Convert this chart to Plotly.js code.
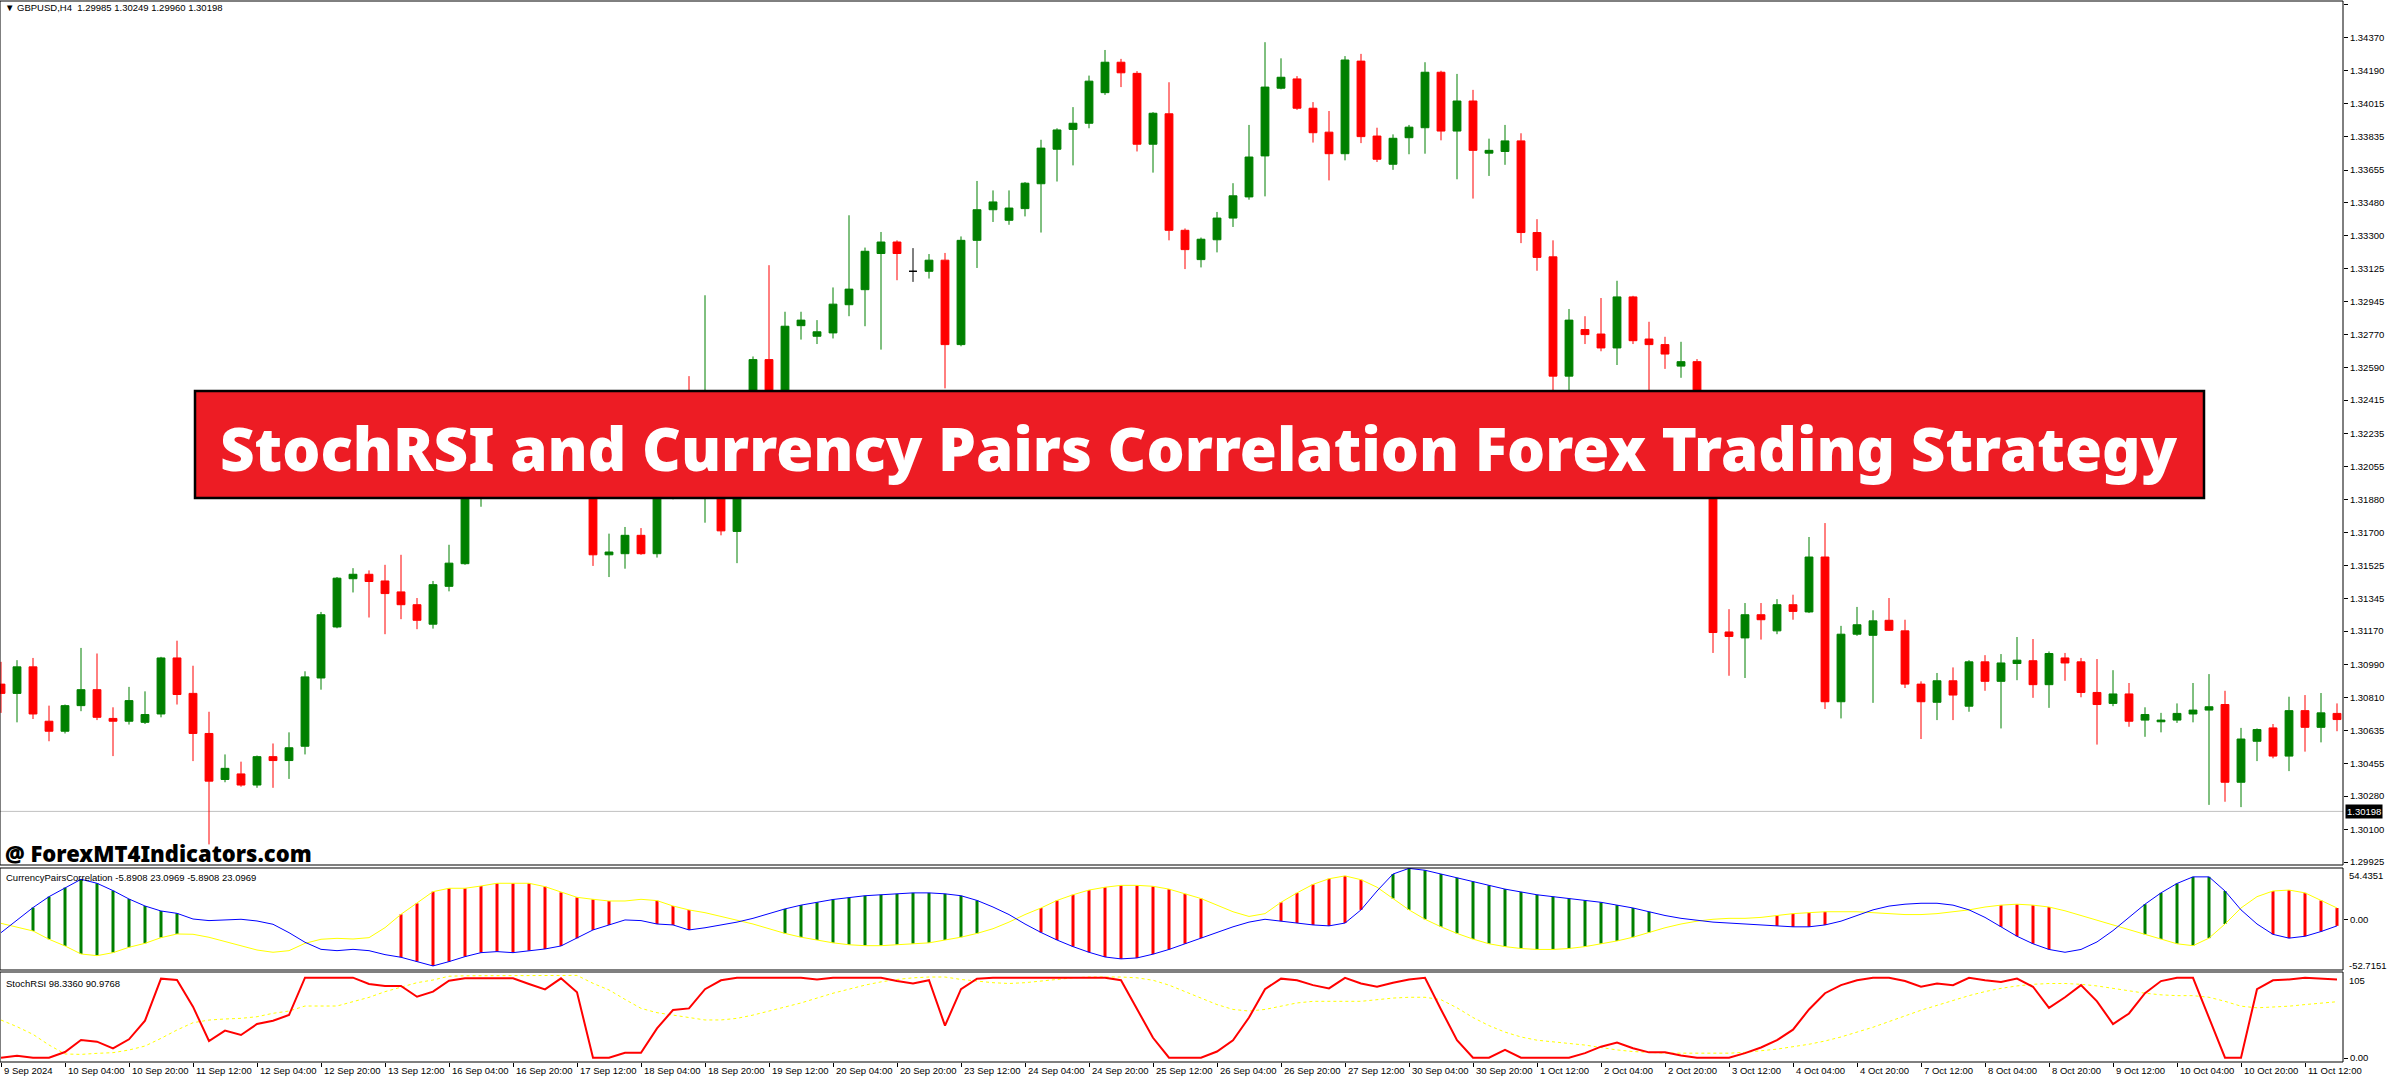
<!DOCTYPE html>
<html><head><meta charset="utf-8">
<script src="https://cdn.plot.ly/plotly-3.0.1.min.js"></script>
<style>html,body{margin:0;padding:0;background:#fff;} #chart{width:2387px;height:1077px;}</style>
</head><body><div id="chart"></div>
<script>
const symbolTitle = "GBPUSD,H4";
const headerValues = "1.29985 1.30249 1.29960 1.30198";
const bannerText = "StochRSI and Currency Pairs Correlation Forex Trading Strategy";
const watermark = "@ ForexMT4Indicators.com";
const corrLabel = "CurrencyPairsCorrelation -5.8908 23.0969 -5.8908 23.0969";
const stochLabel = "StochRSI 98.3360 90.9768";
const currentPrice = 1.30198;

const openP = [1.30884,1.30834,1.30977,1.30684,1.30630,1.30768,1.30854,1.30699,1.30684,1.30678,
1.30723,1.31025,1.30834,1.30618,1.30370,1.30400,1.30340,1.30493,1.30472,1.30549,
1.30917,1.31192,1.31452,1.31476,1.31440,1.31381,1.31312,1.31207,1.31411,1.31533,
1.31960,1.32070,1.32220,1.32290,1.32250,1.32320,1.32220,1.32100,1.31581,1.31587,
1.31686,1.31587,1.31920,1.32280,1.31960,1.32150,1.31707,1.32250,1.32633,1.32320,
1.32816,1.32759,1.32777,1.32929,1.33010,1.33205,1.33267,1.33109,1.33109,1.33169,
1.32714,1.33276,1.33441,1.33384,1.33447,1.33581,1.33767,1.33874,1.33907,1.34072,
1.34236,1.34176,1.33794,1.33958,1.33330,1.33172,1.33279,1.33396,1.33510,1.33731,
1.34096,1.34146,1.33988,1.33859,1.33743,1.34242,1.33838,1.33686,1.33829,1.33883,
1.34182,1.33865,1.34027,1.33746,1.33755,1.33812,1.33318,1.33187,1.32544,1.32795,
1.32771,1.32696,1.32971,1.32744,1.32714,1.32598,1.32622,1.32380,1.31165,1.31133,
1.31258,1.31171,1.31312,1.31273,1.31569,1.30789,1.31153,1.31147,1.31228,1.31171,
1.30884,1.30786,1.30902,1.30765,1.31004,1.30899,1.30995,1.31010,1.30881,1.31025,
1.31004,1.30839,1.30780,1.30831,1.30690,1.30681,1.30690,1.30723,1.30744,1.30774,
1.30355,1.30576,1.30648,1.30496,1.30741,1.30651,1.30726];
const highP = [1.31004,1.31013,1.31025,1.30768,1.30774,1.31079,1.31049,1.30759,1.30869,1.30845,
1.31031,1.31118,1.30983,1.30735,1.30505,1.30466,1.30499,1.30564,1.30624,1.30953,
1.31273,1.31461,1.31509,1.31497,1.31527,1.31581,1.31348,1.31440,1.31635,1.32010,
1.32120,1.32280,1.32360,1.32400,1.32380,1.32440,1.32350,1.32180,1.31695,1.31731,
1.31725,1.31970,1.32360,1.32544,1.32980,1.32240,1.32380,1.32650,1.33142,1.32891,
1.32891,1.32846,1.33022,1.33411,1.33237,1.33321,1.33276,1.33234,1.33202,1.33208,
1.33297,1.33596,1.33545,1.33545,1.33590,1.33818,1.33880,1.33994,1.34164,1.34302,
1.34254,1.34188,1.33967,1.34128,1.33340,1.33291,1.33429,1.33584,1.33898,1.34344,
1.34257,1.34161,1.34021,1.33973,1.34269,1.34281,1.33883,1.33847,1.33898,1.34236,
1.34190,1.34173,1.34087,1.33824,1.33898,1.33853,1.33390,1.33276,1.32906,1.32867,
1.32965,1.33058,1.32977,1.32837,1.32756,1.32729,1.32636,1.32420,1.31288,1.31321,
1.31321,1.31342,1.31366,1.31677,1.31752,1.31198,1.31300,1.31282,1.31348,1.31231,
1.30899,1.30944,1.30974,1.31013,1.31040,1.31046,1.31138,1.31127,1.31060,1.31052,
1.31025,1.31019,1.30959,1.30890,1.30759,1.30729,1.30780,1.30890,1.30938,1.30848,
1.30648,1.30645,1.30669,1.30816,1.30825,1.30836,1.30780];
const lowP = [1.30729,1.30678,1.30696,1.30576,1.30618,1.30738,1.30690,1.30496,1.30666,1.30669,
1.30705,1.30774,1.30469,1.30020,1.30355,1.30331,1.30325,1.30325,1.30373,1.30505,
1.30854,1.31185,1.31378,1.31243,1.31153,1.31234,1.31180,1.31183,1.31384,1.31527,
1.31840,1.31990,1.32130,1.32190,1.32140,1.32180,1.31950,1.31521,1.31461,1.31506,
1.31581,1.31566,1.31880,1.31900,1.31754,1.31686,1.31536,1.32190,1.32220,1.32280,
1.32741,1.32717,1.32747,1.32867,1.32813,1.32687,1.33061,1.33052,1.33070,1.32478,
1.32705,1.33127,1.33375,1.33360,1.33405,1.33318,1.33593,1.33680,1.33880,1.34060,
1.34102,1.33755,1.33641,1.33276,1.33121,1.33130,1.33211,1.33348,1.33495,1.33513,
1.34090,1.33979,1.33803,1.33599,1.33707,1.33800,1.33698,1.33656,1.33740,1.33743,
1.33815,1.33605,1.33501,1.33623,1.33683,1.33261,1.33112,1.32380,1.32400,1.32717,
1.32678,1.32604,1.32717,1.32400,1.32583,1.32535,1.32320,1.31052,1.30929,1.30917,
1.31124,1.31153,1.31231,1.31267,1.30750,1.30699,1.31144,1.30783,1.31171,1.30863,
1.30588,1.30690,1.30690,1.30735,1.30848,1.30645,1.30905,1.30810,1.30756,1.30902,
1.30813,1.30558,1.30765,1.30654,1.30600,1.30624,1.30675,1.30678,1.30233,1.30250,
1.30221,1.30469,1.30484,1.30415,1.30520,1.30570,1.30630];
const closeP = [1.30834,1.30977,1.30723,1.30630,1.30768,1.30854,1.30705,1.30684,1.30795,1.30720,
1.31025,1.30828,1.30618,1.30361,1.30430,1.30340,1.30493,1.30472,1.30541,1.30923,
1.31258,1.31455,1.31476,1.31437,1.31372,1.31312,1.31228,1.31420,1.31536,1.31960,
1.32070,1.32220,1.32290,1.32250,1.32320,1.32220,1.32100,1.31581,1.31596,1.31686,
1.31587,1.31920,1.32280,1.31960,1.32150,1.31710,1.32250,1.32633,1.32320,1.32813,
1.32846,1.32783,1.32932,1.33013,1.33217,1.33267,1.33205,1.33109,1.33169,1.32714,
1.33276,1.33441,1.33483,1.33450,1.33584,1.33773,1.33871,1.33907,1.34134,1.34236,
1.34179,1.33794,1.33961,1.33330,1.33226,1.33282,1.33396,1.33516,1.33725,1.34102,
1.34155,1.33988,1.33856,1.33743,1.34248,1.33835,1.33713,1.33826,1.33886,1.34182,
1.33865,1.34027,1.33761,1.33761,1.33812,1.33318,1.33184,1.32544,1.32846,1.32768,
1.32696,1.32971,1.32735,1.32714,1.32663,1.32622,1.32380,1.31162,1.31141,1.31258,
1.31231,1.31312,1.31276,1.31569,1.30789,1.31153,1.31204,1.31225,1.31174,1.30884,
1.30789,1.30902,1.30825,1.31004,1.30899,1.30998,1.31013,1.30881,1.31049,1.30998,
1.30839,1.30774,1.30831,1.30684,1.30720,1.30690,1.30726,1.30744,1.30762,1.30355,
1.30588,1.30639,1.30496,1.30741,1.30651,1.30729,1.30693];

const corrBlue = [-14.2,-0.7,12.4,24.0,33.6,42.4,38.2,30.4,21.5,14.1,8.8,6.3,0.3,-1.4,-0.7,0.0,-1.8,-5.3,-14.2,-24.4,
-31.9,-33.3,-31.9,-33.3,-37.5,-40.3,-44.9,-49.5,-44.9,-39.6,-35.4,-34.3,-35.4,-33.3,-31.5,-28.3,-20.2,-11.3,-6.0,-0.7,
-1.4,-5.0,-6.0,-11.3,-9,-6,-3,1,6,11,15,18,21,23,25,26,27,28,28,27,
25,20,13,5,-5,-14,-22,-29,-35,-40,-42,-41,-37,-32,-26,-20,-14,-8,-3,0,
-2,-4,-6,-7,-4,10,30,48,54,52,48,44,40,36,32,29,26,24,22,20,
18,15,12,8,4,1,-1,-3,-4,-5,-6,-7,-8,-8,-6,-2,4,10,14,16,
17,17,15,10,2,-8,-18,-26,-32,-35,-32,-24,-12,2,16,28,38,45,45,30,
10,-5,-16,-20,-18,-13,-7];
const corrYellow = [-4.3,-8.5,-12.4,-21.2,-28.3,-36.8,-38.6,-35.4,-29.7,-25.5,-19.5,-15.6,-15.9,-19.1,-23.7,-28.0,-32.6,-35.0,-33.3,-25.5,
-21.2,-20.2,-20.9,-19.5,-8.9,5.3,16.9,29.3,32.9,32.9,35.3,38.2,38.2,38.2,34.6,28.6,23.3,21.2,19.4,19.4,
21.2,19.8,14.1,9.9,7,3,-1,-5,-10,-15,-19,-22,-25,-27,-28,-28,-27,-26,-25,-22,
-19,-15,-10,-3,5,12,20,26,31,34,36,36,35,32,27,22,15,8,3,6,
18,28,37,43,46,42,34,22,10,0,-8,-15,-21,-26,-29,-31,-32,-32,-31,-29,
-26,-23,-19,-14,-9,-5,-2,0,1,1,2,4,6,7,8,8,8,7,6,5,
5,6,8,10,13,15,16,15,13,9,4,-1,-6,-11,-16,-21,-26,-28,-20,-5,
12,24,30,31,28,20,12];
const corrHist = [0,0,1,1,1,1,1,1,1,1,1,1,0,0,0,0,0,0,0,0,
0,0,0,0,0,-1,-1,-1,-1,-1,-1,-1,-1,-1,-1,-1,-1,-1,-1,0,
0,-1,-1,-1,0,0,0,0,0,1,1,1,1,1,1,1,1,1,1,1,
1,1,0,0,0,-1,-1,-1,-1,-1,-1,-1,-1,-1,-1,-1,0,0,0,0,
-1,-1,-1,-1,-1,-1,0,1,1,1,1,1,1,1,1,1,1,1,1,1,
1,1,1,1,0,0,0,0,0,0,0,-1,-1,-1,-1,0,0,0,0,0,
0,0,0,0,0,-1,-1,-1,-1,0,0,0,0,0,1,1,1,1,1,1,
0,0,-1,-1,-1,-1,-1];

const stochMain = [0.4,2.9,0.4,0.4,7.4,22.2,20.2,11.9,23.1,46.1,98,96.3,63.4,21,33.8,28.4,42,46.1,53.1,99.2,
99.2,99.2,99.2,91.4,88.9,88.9,75.7,81.9,95.5,98.4,98.4,98.4,98.4,91.4,84.8,98.4,81.1,0.4,0.4,6.6,
6.6,36.6,59.3,61.3,85,96,99,99,99,99,99,97,99,99,99,99,95,92,96,40,
85,98,99,99,99,99,99,99,99,99,96,60,25,0.4,0.4,0.4,8,22,50,85,
98,96,90,86,99,92,88,93,97,99,60,22,0.4,0.4,10,0.4,0.4,0.4,0.4,6,
14,19,12,7,7,3,0.4,0.4,0.4,6,13,22,35,60,80,90,96,99,99,95,
88,92,90,99,96,94,98,88,62,75,90,70,42,55,80,95,99,99,50,0.4,
0.4,85,96,97,99,98,97];
const stochSignal = [46.9,38.7,29.2,16.1,5,4.5,5.8,6.6,9.9,14.8,24.3,34.6,43.6,46.9,48.2,49,51,55.2,58,64.2,
64.2,64.2,69.6,74.9,81.9,87.3,93,96.3,101,101.5,101.5,101.5,101.5,101.5,102,102,102,92.2,84,72.4,
61.3,56,53.1,50.2,47,47,49,53,58,63,68,74,80,85,90,94,97,99,100,100,
97,95,93,92,93,95,97,99,100,100,100,99,96,90,82,74,66,60,58,60,
64,68,70,70,70,70,72,74,75,75,72,62,50,40,32,26,22,20,18,16,
13,10,8,7,6,6,6,6,6,7,9,11,14,17,21,26,32,38,45,52,
59,65,71,77,82,86,89,91,92,92,91,89,86,83,80,78,77,77,75,70,
64,62,63,64,66,68,69.5];

const timeLabels = ["9 Sep 2024","10 Sep 04:00","10 Sep 20:00","11 Sep 12:00","12 Sep 04:00","12 Sep 20:00","13 Sep 12:00","16 Sep 04:00","16 Sep 20:00","17 Sep 12:00","18 Sep 04:00","18 Sep 20:00","19 Sep 12:00","20 Sep 04:00","20 Sep 20:00","23 Sep 12:00","24 Sep 04:00","24 Sep 20:00","25 Sep 12:00","26 Sep 04:00","26 Sep 20:00","27 Sep 12:00","30 Sep 04:00","30 Sep 20:00","1 Oct 12:00","2 Oct 04:00","2 Oct 20:00","3 Oct 12:00","4 Oct 04:00","4 Oct 20:00","7 Oct 12:00","8 Oct 04:00","8 Oct 20:00","9 Oct 12:00","10 Oct 04:00","10 Oct 20:00","11 Oct 12:00"];
const barsPerLabel = 4;
const priceTickLabels = ["1.34545","1.34370","1.34190","1.34015","1.33835","1.33655","1.33480","1.33300","1.33125","1.32945","1.32770","1.32590","1.32415","1.32235","1.32055","1.31880","1.31700","1.31525","1.31345","1.31170","1.30990","1.30810","1.30635","1.30455","1.30280","1.30100","1.29925"];
const corrMaxLabel = "54.4351", corrZeroLabel = "0.00", corrMinLabel = "-52.7151";
const stochMaxLabel = "105", stochZeroLabel = "0.00";

// ---------- build ----------
const W = 2387, H = 1077, ML = 0, MR = 44, MT = 1, MB = 15;
const PW = W - ML - MR, PH = H - MT - MB;
const px = x => (x - ML) / PW;
const py = y => (H - MB - y) / PH;

const idx = openP.map((_, i) => i);
const isDoji = i => openP[i] === closeP[i];
const mIdx = idx.filter(i => !isDoji(i));
const dIdx = idx.filter(isDoji);
const pick = (arr, ids) => ids.map(i => arr[i]);

const GREEN = '#008000', RED = '#FF0000';
const traces = [];
traces.push({
  type: 'candlestick', x: mIdx, open: pick(openP, mIdx), high: pick(highP, mIdx),
  low: pick(lowP, mIdx), close: pick(closeP, mIdx), xaxis: 'x', yaxis: 'y',
  increasing: {line: {color: GREEN, width: 1}, fillcolor: GREEN},
  decreasing: {line: {color: RED, width: 1}, fillcolor: RED},
  whiskerwidth: 0, hoverinfo: 'skip', showlegend: false
});
if (dIdx.length) traces.push({
  type: 'candlestick', x: dIdx, open: pick(openP, dIdx), high: pick(highP, dIdx),
  low: pick(lowP, dIdx), close: pick(closeP, dIdx), xaxis: 'x', yaxis: 'y',
  increasing: {line: {color: '#000', width: 1}, fillcolor: '#000'},
  decreasing: {line: {color: '#000', width: 1}, fillcolor: '#000'},
  whiskerwidth: 0, hoverinfo: 'skip', showlegend: false
});

const gx = [], gy = [], rx = [], ry = [];
corrHist.forEach((f, i) => {
  if (f === 1) { gx.push(i, i, null); gy.push(corrYellow[i], corrBlue[i], null); }
  else if (f === -1) { rx.push(i, i, null); ry.push(corrBlue[i], corrYellow[i], null); }
});
traces.push({type: 'scatter', mode: 'lines', x: gx, y: gy, xaxis: 'x', yaxis: 'y2', line: {color: GREEN, width: 3}, hoverinfo: 'skip', connectgaps: false});
traces.push({type: 'scatter', mode: 'lines', x: rx, y: ry, xaxis: 'x', yaxis: 'y2', line: {color: RED, width: 3}, hoverinfo: 'skip', connectgaps: false});
traces.push({type: 'scatter', mode: 'lines', x: idx, y: corrYellow, xaxis: 'x', yaxis: 'y2', line: {color: '#FFFF00', width: 1}, hoverinfo: 'skip'});
traces.push({type: 'scatter', mode: 'lines', x: idx, y: corrBlue, xaxis: 'x', yaxis: 'y2', line: {color: '#0000FF', width: 1}, hoverinfo: 'skip'});
traces.push({type: 'scatter', mode: 'lines', x: idx, y: stochSignal, xaxis: 'x', yaxis: 'y3', line: {color: '#FFFF00', width: 1, dash: 'dot'}, hoverinfo: 'skip'});
traces.push({type: 'scatter', mode: 'lines', x: idx, y: stochMain, xaxis: 'x', yaxis: 'y3', line: {color: RED, width: 2}, hoverinfo: 'skip'});

const FAM = 'Liberation Sans, Arial, sans-serif';
const HEAVY = 'Noto Sans, Liberation Sans, Arial, sans-serif';
const tickFont = {family: FAM, size: 9.5, color: '#000'};
const yBase = {side: 'right', anchor: 'x', showgrid: false, zeroline: false, ticks: 'outside', ticklen: 4, tickcolor: '#000', tickwidth: 1, tickfont: tickFont, showline: false, fixedrange: true, tickmode: 'array'};

const timeBars = timeLabels.map((_, k) => k * barsPerLabel);

const annotations = [];
const txt = (xp, yp, text, extra) => Object.assign({xref: 'paper', yref: 'paper', x: px(xp), y: py(yp), xanchor: 'left', yanchor: 'middle', showarrow: false, text: text, font: {family: FAM, size: 9.5, color: '#000'}}, extra || {});
annotations.push(txt(3, 7, '\u25BC\u00a0' + symbolTitle + '\u00a0\u00a0' + headerValues));
annotations.push(txt(4, 877, corrLabel));
annotations.push(txt(4, 983, stochLabel));
annotations.push(txt(3, 853, watermark, {font: {family: HEAVY, size: 22, color: '#000', weight: 900}}));
annotations.push(txt(1199, 448, bannerText, {xanchor: 'center', font: {family: HEAVY, size: 60, color: '#FFFFFF', weight: 900}}));
annotations.push(txt(2346, 875, corrMaxLabel, {xshift: 1}));
annotations.push(txt(2346, 965, corrMinLabel, {xshift: 1}));
annotations.push(txt(2346, 980, stochMaxLabel, {xshift: 1}));
annotations.push({xref: 'paper', yref: 'y', x: 1, y: currentPrice, xanchor: 'left', yanchor: 'middle', showarrow: false, xshift: 2,
  text: currentPrice.toFixed(5), bgcolor: '#000', borderpad: 1, font: {family: FAM, size: 9.5, color: '#FFFFFF'}});
timeLabels.forEach((t, k) => {
  annotations.push({xref: 'x', yref: 'paper', x: timeBars[k], y: py(1070), xanchor: 'left', yanchor: 'middle', xshift: 1, showarrow: false,
    text: t, font: {family: FAM, size: 9.5, color: '#000'}});
});

const shapes = [
  {type: 'line', layer: 'below', xref: 'paper', x0: 0, x1: 1, yref: 'y', y0: currentPrice, y1: currentPrice, line: {color: '#C0C0C0', width: 1}},
  {type: 'rect', xref: 'paper', x0: 0, x1: 1, yref: 'y domain', y0: 0, y1: 1, line: {color: '#000', width: 1}},
  {type: 'rect', xref: 'paper', x0: 0, x1: 1, yref: 'y2 domain', y0: 0, y1: 1, line: {color: '#000', width: 1}},
  {type: 'rect', xref: 'paper', x0: 0, x1: 1, yref: 'y3 domain', y0: 0, y1: 1, line: {color: '#000', width: 1}},
  {type: 'rect', xref: 'paper', yref: 'paper', x0: px(195), x1: px(2204), y0: py(498), y1: py(391), fillcolor: '#ED1C24', line: {color: '#000', width: 2.5}}
];

const layout = {
  width: W, height: H, margin: {l: ML, r: MR, t: MT, b: MB, pad: 0},
  paper_bgcolor: '#fff', plot_bgcolor: '#fff', showlegend: false, boxgap: 0.3, boxmode: 'overlay',
  xaxis: {domain: [0, 1], range: [-0.0625, 146.375], anchor: 'y3', showgrid: false, zeroline: false, tickmode: 'array', tickvals: timeBars,
    ticks: 'outside', ticklen: 4, tickcolor: '#000', showticklabels: false, showline: false, fixedrange: true, rangeslider: {visible: false}},
  yaxis: Object.assign({}, yBase, {domain: [py(865), 1], range: [1.29909, 1.34566], tickvals: priceTickLabels.map(Number), ticktext: priceTickLabels}),
  yaxis2: Object.assign({}, yBase, {domain: [py(970), py(868)], range: [-53.8, 54.4], tickvals: [0], ticktext: [corrZeroLabel]}),
  yaxis3: Object.assign({}, yBase, {domain: [0, py(972)], range: [-4.9, 106.2], tickvals: [0], ticktext: [stochZeroLabel]}),
  annotations: annotations, shapes: shapes
};

Plotly.newPlot('chart', traces, layout, {displayModeBar: false, staticPlot: true});
</script></body></html>
